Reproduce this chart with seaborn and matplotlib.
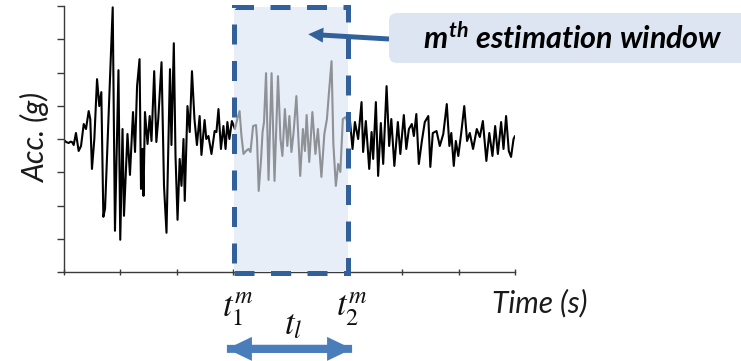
import numpy as np
import pandas as pd
import matplotlib
matplotlib.use("Agg")
import matplotlib.pyplot as plt
import seaborn as sns
from matplotlib.patches import Rectangle, FancyBboxPatch
import matplotlib.transforms as mtransforms

# ---------------- data ----------------
time_s = [
    0.00, 0.18, 0.42, 0.58, 0.71, 0.86, 1.06, 1.30, 1.51, 1.75,
    1.95, 2.19, 2.33, 2.48, 2.69, 2.93, 3.13, 3.31, 3.49, 3.64,
    4.32, 4.52, 4.83, 4.99, 5.19, 5.32, 5.63, 5.85, 6.12, 6.30,
    6.48, 6.70, 6.83, 6.96, 7.05, 7.18, 7.41, 7.60, 7.76, 8.00,
    8.19, 8.36, 8.65, 8.87, 9.09, 9.40, 9.53, 9.74, 9.89, 10.07,
    10.26, 10.42, 10.60, 10.71, 10.95, 11.15, 11.35, 11.57, 11.79, 12.03,
    12.19, 12.47, 12.62, 12.81, 13.08, 13.36, 13.52, 13.70, 13.92, 14.14,
    14.33, 14.49, 14.67, 14.89, 15.16, 15.37, 15.57, 15.74, 15.92, 16.14,
    16.37, 16.54, 16.77, 17.03, 17.12, 17.27, 17.48, 17.61, 17.74, 17.92,
    18.14, 18.41, 18.67, 18.98, 19.20, 19.37, 19.59, 19.81, 19.99, 20.17,
    20.35, 20.61, 20.95, 21.19, 21.37, 21.52, 21.75, 22.03, 22.30, 22.52,
    22.83, 23.09, 23.32, 23.49, 23.73, 23.89, 24.11, 24.32, 24.51, 24.73,
    25.00, 25.20, 25.35, 25.59, 25.80, 26.09, 26.39, 26.53, 26.77, 27.07,
    27.28, 27.42, 27.66, 27.86, 28.10, 28.31, 28.61, 28.84, 29.03, 29.30,
    29.61, 29.83, 30.14, 30.36, 30.59, 30.85, 31.03, 31.25, 31.47, 31.74,
    32.00, 32.31, 32.49, 32.71, 33.04, 33.33, 33.64, 33.95, 34.18, 34.35,
    34.57, 34.75, 34.97, 35.22, 35.50, 35.75, 35.99, 36.28, 36.61, 36.88,
    37.15, 37.46, 37.72, 38.00, 38.24, 38.48, 38.77, 38.98, 39.21, 39.45,
    39.65, 39.87, 40.00,
]
acc_g = [
    -0.003, -0.009, -0.012, -0.008, -0.009, -0.018, 0.018, -0.036, -0.021, 0.045,
    0.030, 0.084, 0.060, -0.090, 0.000, 0.180, 0.099, 0.141, -0.234, -0.210,
    0.396, -0.276, 0.207, -0.303, 0.030, -0.231, 0.015, -0.108, 0.081, -0.039,
    0.159, 0.240, -0.150, -0.030, -0.171, 0.081, -0.015, 0.069, -0.006, 0.204,
    -0.009, 0.060, 0.231, -0.141, -0.282, 0.210, -0.018, 0.288, -0.051, -0.243,
    -0.060, -0.141, 0.000, -0.186, 0.099, 0.021, 0.204, 0.060, -0.018, 0.069,
    -0.048, 0.057, 0.000, 0.009, -0.045, 0.024, 0.021, 0.090, -0.030, 0.039,
    -0.030, 0.051, 0.000, 0.054, 0.030, 0.060, 0.084, 0.009, -0.045, -0.036,
    -0.030, -0.039, 0.039, 0.042, 0.000, -0.156, -0.060, 0.021, 0.051, 0.198,
    -0.123, 0.198, -0.126, 0.189, 0.000, -0.051, 0.090, -0.021, 0.069, -0.039,
    0.015, 0.129, -0.111, 0.030, -0.036, 0.072, -0.069, 0.081, -0.045, 0.030,
    -0.114, 0.015, 0.060, 0.135, 0.234, -0.015, -0.141, -0.075, -0.099, 0.060,
    0.066, 0.039, 0.060, -0.030, 0.051, 0.000, 0.111, -0.039, 0.054, -0.090,
    0.021, -0.060, 0.111, -0.111, 0.048, -0.075, 0.159, -0.021, 0.060, -0.081,
    0.051, -0.045, 0.072, -0.030, 0.030, 0.045, 0.009, 0.075, -0.075, -0.006,
    0.051, 0.069, -0.084, 0.018, 0.024, -0.021, 0.015, 0.105, -0.021, 0.018,
    -0.081, -0.006, -0.051, 0.015, 0.099, -0.006, 0.018, -0.030, 0.030, 0.006,
    0.054, -0.066, 0.018, -0.051, 0.039, -0.045, 0.051, -0.030, 0.069, -0.036,
    -0.054, 0.000, 0.009,
]
window_start = 15.1
window_end = 25.2
x_ticks = [0, 5, 10, 15, 20, 25, 30, 35, 40]
y_ticks = [-0.4, -0.3, -0.2, -0.1, 0.0, 0.1, 0.2, 0.3, 0.4]

x_label = "Time (s)"
y_label = "Acc. (g)"
box_label = r"$m^{th}$ estimation window"
t1_label = r"$t_1^m$"
t2_label = r"$t_2^m$"
tl_label = r"$t_l$"

# ---------------- style ----------------
sns.set_style("ticks")
plt.rcParams["font.family"] = ["Lato", "DejaVu Sans"]
plt.rcParams["mathtext.rm"] = "Lato:bold:italic"
plt.rcParams["mathtext.it"] = "Lato:bold:italic"
plt.rcParams["mathtext.bf"] = "Lato:bold:italic"

DARK_BLUE = "#31609a"
MID_BLUE = "#4a7ebb"
WIN_FILL = "#e8eef7"
BOX_FILL = "#dce5f1"
AX_COL = "#3a3a3a"

fig = plt.figure(figsize=(7.41, 3.61), dpi=100)
ax = fig.add_axes([64 / 741, 89 / 361, 451 / 741, 266 / 361])

df = pd.DataFrame({"time": time_s, "acc": acc_g})
sns.lineplot(data=df, x="time", y="acc", ax=ax, color="black", lw=1.5,
             estimator=None, sort=False, zorder=2)

# window fill (covers the black trace)
span = ax.axvspan(window_start, window_end, ymin=0, ymax=0.996,
                  color=WIN_FILL, lw=0, zorder=3)

# grey trace inside the window
seg = df[(df["time"] >= 14.85) & (df["time"] <= 25.4)]
sns.lineplot(data=seg, x="time", y="acc", ax=ax, color="#8e9196", lw=1.5,
             estimator=None, sort=False, zorder=4)
ax.lines[-1].set_clip_path(span)

# dashed window border
rect = Rectangle((window_start, -0.403), window_end - window_start, 0.8,
                 fill=False, ec=DARK_BLUE, lw=3.6, ls=(0, (4.0, 3.3)),
                 zorder=6, clip_on=False)
ax.add_patch(rect)

ax.set_xlim(0, 40)
ax.set_ylim(-0.4, 0.4)
ax.set_xticks(x_ticks)
ax.set_yticks(y_ticks)
ax.set_xticklabels([])
ax.set_yticklabels([])
ax.set_xlabel("")
ax.set_ylabel("")
for s in ["top", "right"]:
    ax.spines[s].set_visible(False)
for s in ["left", "bottom"]:
    ax.spines[s].set_color(AX_COL)
    ax.spines[s].set_linewidth(1.0)
ax.tick_params(axis="y", direction="out", length=5, width=1.0, color=AX_COL)
ax.tick_params(axis="x", direction="inout", length=5, width=1.0, color=AX_COL)
ax.patch.set_alpha(0)

# axis labels
fig.text(35 / 741, 1 - 137 / 361, y_label, rotation=90, ha="center", va="center",
         style="italic", fontsize=21.5, color="#1a1a1a")
fig.text(540 / 741, 1 - 303 / 361, x_label, ha="center", va="center",
         style="italic", fontsize=21.5, color="#1a1a1a")

# t labels under the window
trans = mtransforms.blended_transform_factory(ax.transData, ax.transAxes)
ax.text(window_start + 0.3, -0.14, t1_label, transform=trans, ha="center",
        va="center", fontsize=25, math_fontfamily="stix", color="#111111")
ax.text(window_end + 0.3, -0.14, t2_label, transform=trans, ha="center",
        va="center", fontsize=25, math_fontfamily="stix", color="#111111")
ax.text((window_start + window_end) / 2 + 0.2, -0.2, tl_label, transform=trans,
        ha="center", va="center", fontsize=25, math_fontfamily="stix",
        color="#111111")

# double arrow (window length)
arrow_left, arrow_right = 14.45, 25.55
for a, b in ((arrow_left, arrow_right), (arrow_right, arrow_left)):
    ax.annotate("", xy=(b, -0.289), xycoords=trans,
                xytext=(a, -0.289), textcoords=trans,
                arrowprops=dict(arrowstyle="simple,head_length=1.0,head_width=0.96,tail_width=0.32",
                                mutation_scale=18, color=MID_BLUE, lw=0,
                                shrinkA=0, shrinkB=0),
                annotation_clip=False)

# annotation box
box = FancyBboxPatch((3.89, 2.98), 3.62, 0.50,
                     boxstyle="round,pad=0,rounding_size=0.08",
                     transform=fig.dpi_scale_trans, fc=BOX_FILL, ec="none",
                     zorder=1)
fig.patches.append(box)
fig.text(573 / 741, 1 - 38 / 361, box_label, ha="center", va="center",
         fontsize=22, fontweight="bold", style="italic",
         math_fontfamily="custom", color="black")

# arrow from box to window
ax.annotate("", xy=(21.66, 0.315), xycoords="data",
            xytext=(389 / 741, 1 - 39 / 361), textcoords="figure fraction",
            arrowprops=dict(arrowstyle="simple,head_length=1.0,head_width=1.0,tail_width=0.33",
                            mutation_scale=10.8, color=DARK_BLUE, lw=0,
                            shrinkA=0, shrinkB=0),
            annotation_clip=False, zorder=5)

fig.savefig("out.png", dpi=100)
